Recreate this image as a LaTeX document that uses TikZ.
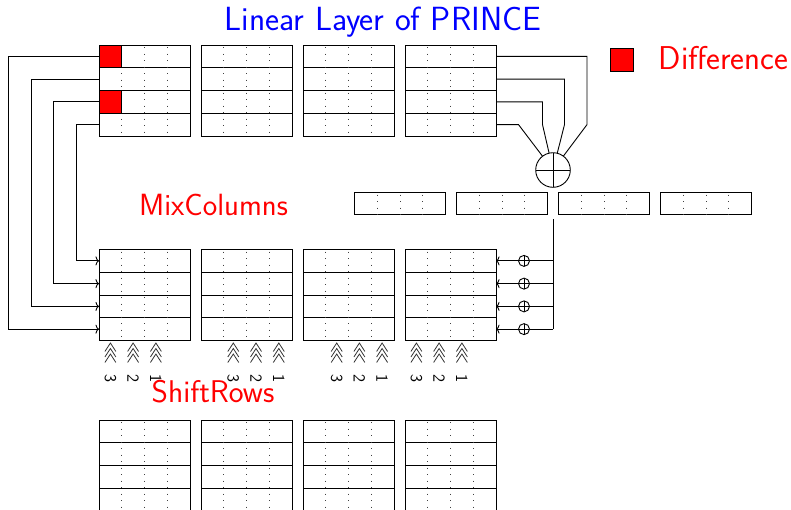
\documentclass[tikz,border=0pt]{standalone}
\usetikzlibrary{arrows.meta}
\begin{document}
\begin{tikzpicture}[x=1pt,y=-1pt,
  line width=0.9pt,
  cell/.style={draw, minimum width=91pt, minimum height=22.75pt, inner sep=0pt, outer sep=0pt, anchor=north west},
  mcbox/.style={draw, minimum width=91pt, minimum height=22pt, inner sep=0pt, outer sep=0pt, anchor=north west},
  dotline/.style={line width=0.8pt, black!75, dash pattern=on 0.9pt off 5.6pt, dash phase=-2pt},
  conn/.style={-{To[length=3.5pt,width=9pt]}},
  bigxor/.style={draw, circle, minimum size=34.6pt, inner sep=0pt, outer sep=0pt},
  smallxor/.style={draw, circle, fill=white, minimum size=11pt, inner sep=0pt, outer sep=0pt,
    path picture={\draw[line width=0.8pt] (path picture bounding box.north) -- (path picture bounding box.south);
                  \draw[line width=0.8pt] (path picture bounding box.west) -- (path picture bounding box.east);}},
  redtxt/.style={text=red, inner sep=0pt, anchor=base},
  numtxt/.style={font=\sffamily\fontsize{17}{19}\selectfont, inner sep=0pt, rotate=-90}
]
\useasboundingbox (0,0) rectangle (791,509);

% title
\node[text=blue, font=\sffamily\fontsize{33.5}{38}\selectfont, inner sep=0pt, anchor=base] (title) at (383,30) {Linear Layer of PRINCE};

% legend
\node[draw, fill=red, minimum size=23pt, inner sep=0pt] (leg) at (621.5,59.5) {};
\node[redtxt, font=\sffamily\fontsize{33}{38}\selectfont] (difflab) at (723.5,69.5) {Difference};

% labels
\node[redtxt, font=\sffamily\fontsize{30.7}{35}\selectfont] (mclab) at (213.5,215.5) {MixColumns};
\node[redtxt, font=\sffamily\fontsize{31.4}{36}\selectfont] (srlab) at (213,402.5) {ShiftRows};

% red difference cells (under the grid lines)
\fill[red] (99,45) rectangle (121.75,67.75);
\fill[red] (99,90.5) rectangle (121.75,113.25);

% state blocks
\foreach \b in {1,2,3,4}{
  \foreach \r in {1,2,3,4}{
    \node[cell] (t\b-\r) at ({99+102*(\b-1)},{45+22.75*(\r-1)}) {};
    \node[cell] (m\b-\r) at ({99+102*(\b-1)},{249.5+22.75*(\r-1)}) {};
    \node[cell] (b\b-\r) at ({99+102*(\b-1)},{420+22.75*(\r-1)}) {};
  }
  \foreach \k in {1,2,3}{
    \draw[dotline] ({99+102*(\b-1)+22.75*\k},45) -- ++(0,91);
    \draw[dotline] ({99+102*(\b-1)+22.75*\k},249.5) -- ++(0,91);
    \draw[dotline] ({99+102*(\b-1)+22.75*\k},420) -- ++(0,91);
  }
  \node[mcbox] (mc\b) at ({354.5+102*(\b-1)},192.5) {};
  \foreach \k in {1,2,3}{
    \draw[dotline] ({354.5+102*(\b-1)+22.75*\k},192.5) -- ++(0,22);
  }
}
\draw (99,45) rectangle (121.75,67.75);
\draw (99,90.5) rectangle (121.75,113.25);

% left connectors (top block -> middle block)
\draw[conn] (t1-1.west) -- ++(-91,0) |- (m1-4.west);
\draw[conn] (t1-2.west) -- ++(-68,0) |- (m1-3.west);
\draw[conn] (t1-3.west) -- ++(-45.5,0) |- (m1-2.west);
\draw[conn] (t1-4.west) -- ++(-22.5,0) |- (m1-1.west);

% XOR of the rows of the last block
\node[bigxor] (xor) at (553,170) {};
\draw (xor.north) -- (xor.south) (xor.west) -- (xor.east);
\coordinate (rc1) at (587,124.6);
\coordinate (rc2) at (564.5,124.6);
\coordinate (rc3) at (542.5,124.6);
\coordinate (rc4) at (518.5,124.6);
\draw (t4-1.east) -| (rc1) -- (xor);
\draw (t4-2.east) -| (rc2) -- (xor);
\draw (t4-3.east) -| (rc3) -- (xor);
\draw (t4-4.east) -- (rc4) -- (xor);

% feedback into the last middle block
\coordinate (vt) at (553,219);
\coordinate (oX) at (524,0);
\draw (vt) -- (vt |- m4-4.east);
\foreach \r in {1,2,3,4}{
  \node[smallxor] (op\r) at (m4-\r.east -| oX) {};
  \draw[conn] (m4-\r.east -| vt) -- (op\r.east) (op\r.west) -- (m4-\r.east);
}

% ShiftRows chevrons and rotation amounts
\foreach \x/\n in {110.4/3,133.1/2,155.9/1, 233.3/3,256/2,278.8/1, 336.7/3,359.4/2,382.1/1, 416.4/3,439.1/2,461.9/1}{
  \foreach \y in {343,348.5,354}{
    \draw[line width=0.8pt, black!80] (\x-5.5,\y+8.5) -- (\x,\y) -- (\x+5.5,\y+8.5);
  }
  \node[numtxt] at (\x,378) {\n};
}
\end{tikzpicture}
\end{document}
